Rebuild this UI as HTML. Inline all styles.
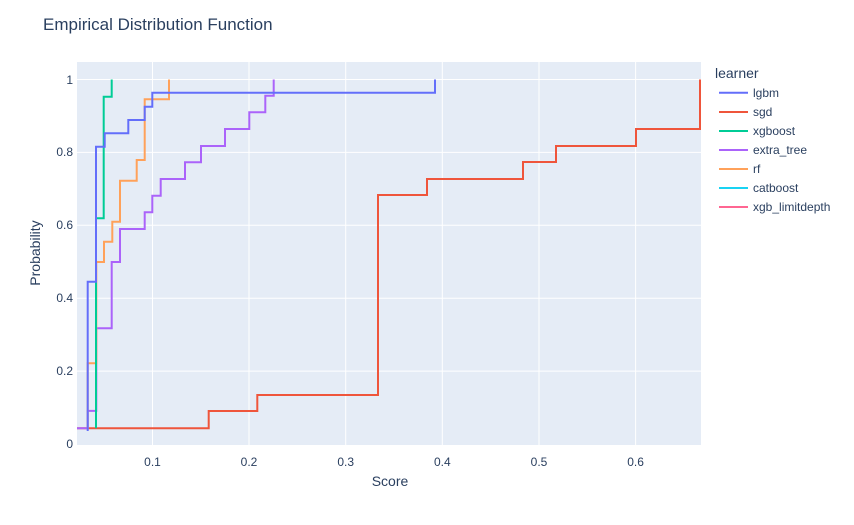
<!DOCTYPE html>
<html><head><style>body{margin:0;background:#fff}svg{display:block}text{font-family:"Liberation Sans",sans-serif;fill:#2a3f5f}</style></head><body>
<svg width="854" height="525" xmlns="http://www.w3.org/2000/svg">
<rect x="77" y="62" width="624" height="383" fill="#e5ecf6"/>
<g stroke="#fff" stroke-width="1">
<line x1="152.5" y1="62" x2="152.5" y2="445"/><line x1="249" y1="62" x2="249" y2="445"/><line x1="345.7" y1="62" x2="345.7" y2="445"/><line x1="442.3" y1="62" x2="442.3" y2="445"/><line x1="539" y1="62" x2="539" y2="445"/><line x1="635.6" y1="62" x2="635.6" y2="445"/>
<line x1="77" y1="371.1" x2="701" y2="371.1"/><line x1="77" y1="298.2" x2="701" y2="298.2"/><line x1="77" y1="225.3" x2="701" y2="225.3"/><line x1="77" y1="152.4" x2="701" y2="152.4"/><line x1="77" y1="79.5" x2="701" y2="79.5"/>
</g>
<g fill="none" stroke-width="2">
<polyline stroke="#ef553b" points="77,428.3 208.7,428.3 208.7,411 257.3,411 257.3,395 378,395 378,195 427,195 427,179 523,179 523,162 556,162 556,146 636,146 636,129 700,129 700,79.5"/>
<polyline stroke="#ab63fa" points="77,428.3 87.7,428.3 87.7,410.9 96.3,410.9 96.3,328.3 111.7,328.3 111.7,262 120,262 120,229 144.7,229 144.7,212.3 152.3,212.3 152.3,195.7 160.7,195.7 160.7,179 185,179 185,162.3 201,162.3 201,146 225,146 225,129 249.3,129 249.3,112.3 265.3,112.3 265.3,95.7 273.7,95.7 273.7,79.5"/>
<polyline stroke="#ffa15a" points="87.7,428.3 87.7,363.3 96.3,363.3 96.3,262 104,262 104,241.7 112.3,241.7 112.3,221.7 120,221.7 120,180.7 136.7,180.7 136.7,160 144.7,160 144.7,99.3 169,99.3 169,79.5"/>
<polyline stroke="#00cc96" points="96,428.3 96,218.3 103.7,218.3 103.7,96.7 111.7,96.7 111.7,79.5"/>
<polyline stroke="#636efa" points="87.7,431 87.7,281.7 96,281.7 96,146.7 104.7,146.7 104.7,133.3 128.3,133.3 128.3,120 144.7,120 144.7,106.7 152.3,106.7 152.3,92.7 435,92.7 435,79.5"/>
</g>
<g font-size="12" text-anchor="middle">
<text x="152.5" y="466">0.1</text><text x="249" y="466">0.2</text><text x="345.7" y="466">0.3</text><text x="442.3" y="466">0.4</text><text x="539" y="466">0.5</text><text x="635.6" y="466">0.6</text>
</g>
<g font-size="12" text-anchor="end">
<text x="73" y="448">0</text><text x="73" y="375">0.2</text><text x="73" y="302">0.4</text><text x="73" y="229">0.6</text><text x="73" y="156">0.8</text><text x="73" y="84">1</text>
</g>
<text x="390" y="486" font-size="14" text-anchor="middle">Score</text>
<text transform="translate(40,253) rotate(-90)" font-size="14" text-anchor="middle">Probability</text>
<text x="43" y="30" font-size="17">Empirical Distribution Function</text>
<text x="715" y="78" font-size="14">learner</text>
<g stroke-width="2">
<line x1="719" y1="92.7" x2="748" y2="92.7" stroke="#636efa"/>
<line x1="719" y1="112" x2="748" y2="112" stroke="#ef553b"/>
<line x1="719" y1="131" x2="748" y2="131" stroke="#00cc96"/>
<line x1="719" y1="150" x2="748" y2="150" stroke="#ab63fa"/>
<line x1="719" y1="169" x2="748" y2="169" stroke="#ffa15a"/>
<line x1="719" y1="188" x2="748" y2="188" stroke="#19d3f3"/>
<line x1="719" y1="207" x2="748" y2="207" stroke="#ff6692"/>
</g>
<g font-size="12">
<text x="753" y="97">lgbm</text><text x="753" y="116">sgd</text><text x="753" y="135">xgboost</text><text x="753" y="154">extra_tree</text><text x="753" y="173">rf</text><text x="753" y="192">catboost</text><text x="753" y="211">xgb_limitdepth</text>
</g>
</svg>
</body></html>
